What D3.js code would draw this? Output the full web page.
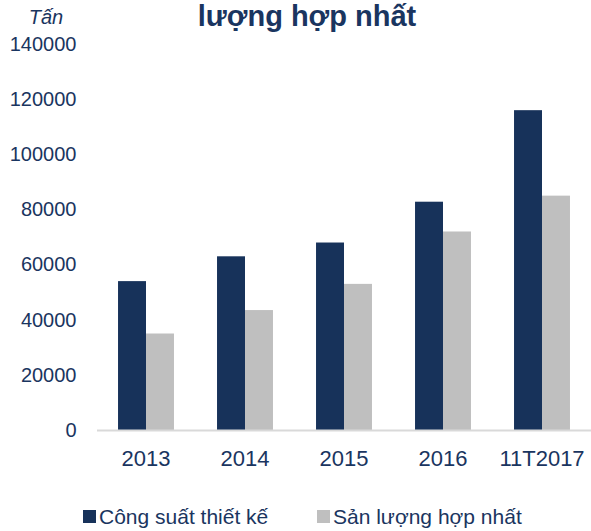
<!DOCTYPE html>
<html>
<head>
<meta charset="utf-8">
<script src="https://cdn.jsdelivr.net/npm/d3@7"></script>
<style>
  body { margin: 0; background: #fff; }
  svg text { font-family: "Liberation Sans", Arial, sans-serif; fill: #1a3560; }
</style>
</head>
<body>
<svg id="chart"></svg>
<script>
// dữ liệu biểu đồ
const categories = ["2013", "2014", "2015", "2016", "11T2017"];
const congSuat = [54000, 63000, 68000, 82800, 116000];
const sanLuong = [35000, 43500, 53000, 72000, 85000];
const yTicks = [0, 20000, 40000, 60000, 80000, 100000, 120000, 140000];
const seriesNames = ["Công suất thiết kế", "Sản lượng hợp nhất"];
const colors = ["#17325a", "#bfbfbf"];

let width = 591;
let height = 531;
let svg = d3.select("#chart").attr("width", width).attr("height", height);

let x0 = 96.5, x1 = 591.5;
let yTop = 44, yBottom = 430;

let scaleX = d3.scaleBand().domain(categories).range([x0, x1]).paddingInner(0.435).paddingOuter(0.2175);
let scaleSub = d3.scaleBand().domain([0, 1]).range([0, scaleX.bandwidth()]);
let scaleY = d3.scaleLinear().domain([0, 140000]).range([yBottom, yTop]);

// tiêu đề (bị cắt phía trên)
svg.append("text")
  .attr("x", 307).attr("y", 26)
  .attr("text-anchor", "middle")
  .style("font-size", "29px").style("font-weight", "bold")
  .text("lượng hợp nhất");

svg.append("text")
  .attr("x", 46).attr("y", 24)
  .attr("text-anchor", "middle")
  .style("font-size", "20px").style("font-style", "italic")
  .text("Tấn");

// trục OY
let axisY = d3.axisLeft(scaleY).tickValues(yTicks).tickSize(0).tickPadding(20).tickFormat(d3.format("d"));
let gy = svg.append("g").attr("transform", `translate(${x0}, 0)`).call(axisY);
gy.select(".domain").remove();
gy.selectAll("text").style("font-size", "20px").style("font-family", "Liberation Sans, Arial, sans-serif").attr("fill", "#1a3560");

// cột
let rows = categories.map((c, i) => ({ cat: c, vals: [congSuat[i], sanLuong[i]] }));
let groups = svg.selectAll(".grp").data(rows).enter().append("g")
  .attr("transform", (d) => `translate(${scaleX(d.cat)}, 0)`);
groups.selectAll("rect").data((d) => d.vals).enter().append("rect")
  .attr("x", (d, i) => scaleSub(i))
  .attr("y", (d) => scaleY(d))
  .attr("width", scaleSub.bandwidth())
  .attr("height", (d) => yBottom - scaleY(d))
  .style("fill", (d, i) => colors[i]);

// trục OX
let axisX = d3.axisBottom(scaleX).tickSize(0).tickPadding(20);
let gx = svg.append("g").attr("transform", `translate(0, ${yBottom})`).call(axisX);
gx.select(".domain").attr("stroke", "#d9d9d9").attr("stroke-width", 2);
gx.selectAll("text").style("font-size", "22px").style("font-family", "Liberation Sans, Arial, sans-serif").attr("fill", "#1a3560");

// chú giải
let legendX = [83, 317];
let legend = svg.selectAll(".leg").data(seriesNames).enter().append("g")
  .attr("transform", (d, i) => `translate(${legendX[i]}, 510)`);
legend.append("rect").attr("width", 13).attr("height", 13).style("fill", (d, i) => colors[i]);
legend.append("text").attr("x", 16).attr("y", 14).style("font-size", "21px").text((d) => d);
</script>
</body>
</html>
